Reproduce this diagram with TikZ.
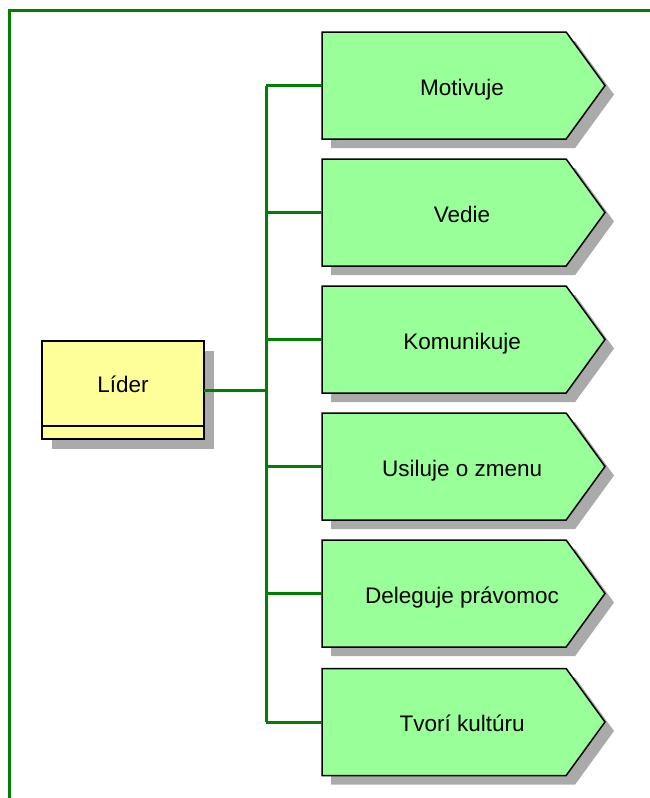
\documentclass[tikz,border=0pt]{standalone}
\usepackage{fontspec}
\setmainfont{Liberation Sans}
\usetikzlibrary{shapes.symbols,shadows}
\definecolor{boxgreen}{HTML}{99FF99}
\definecolor{boxyellow}{HTML}{FFFF99}
\definecolor{linegreen}{HTML}{008000}
\definecolor{shadowgray}{HTML}{AAAAAA}
\newcommand{\functext}[1]{\hspace*{36pt}#1}
\begin{document}
\begin{tikzpicture}[x=1pt,y=-1pt,
  func/.style={shape=signal, signal from=nowhere, signal to=east, signal pointer angle=108,
    minimum width=283pt, minimum height=107pt, inner sep=0pt, outer sep=0pt, anchor=west,
    text height=24.5pt, text depth=5pt,
    draw=black, line width=1.5pt, fill=boxgreen, font=\fontsize{22.5}{26}\selectfont,
    drop shadow={shadow xshift=9pt, shadow yshift=-9pt, fill=shadowgray, opacity=1}},
  orgbox/.style={rectangle, minimum width=162pt, minimum height=98pt, inner sep=0pt, outer sep=0pt,
    text height=17pt, text depth=13pt,
    draw=black, line width=1.5pt, fill=boxyellow, font=\fontsize{22.5}{26}\selectfont,
    drop shadow={shadow xshift=10pt, shadow yshift=-10pt, fill=shadowgray, opacity=1}},
  conn/.style={draw=linegreen, line width=3pt}
]
\useasboundingbox (0,0) rectangle (650,798);
% frame
\coordinate (frameBL) at (9.5,798);
\coordinate (frameTL) at (9.5,10.5);
\coordinate (frameTR) at (650,10.5);
\draw[conn] (frameBL) -- (frameTL) -- (frameTR);

% leader
\node[orgbox] (lider) at (123,390) {Líder};
\draw[line width=1.5pt] ([yshift=13pt]lider.south west) -- ([yshift=13pt]lider.south east);

% functions
\node[func] (f1) at (322,85.5) {\functext{Motivuje}};
\node[func] (f2) at (322,212.5) {\functext{Vedie}};
\node[func] (f3) at (322,339.5) {\functext{Komunikuje}};
\node[func] (f4) at (322,466.5) {\functext{Usiluje o zmenu}};
\node[func] (f5) at (322,593.5) {\functext{Deleguje právomoc}};
\node[func] (f6) at (322,722) {\functext{Tvorí kultúru}};

% bus
\coordinate (busTop) at (266,85.5);
\coordinate (busBot) at (266,722);
\draw[conn] (busTop) -- (busBot);
\draw[conn] (lider.east) -- (lider.east -| busTop);
\foreach \n in {f1,f2,f3,f4,f5,f6}{
  \draw[conn] (\n.west) -- (\n.west -| busTop);
}
\end{tikzpicture}
\end{document}
